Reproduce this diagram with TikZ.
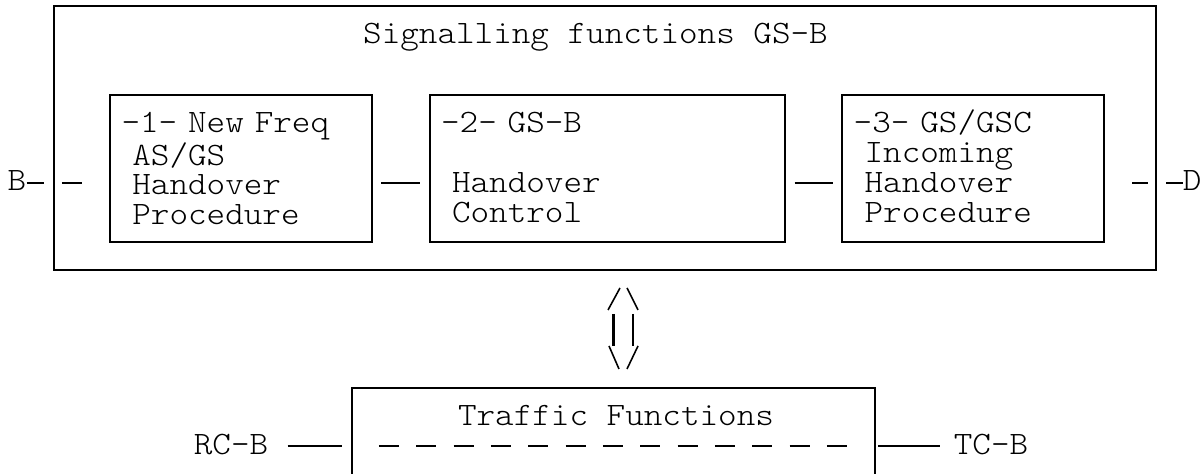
\documentclass[tikz,border=0pt]{standalone}
\usepackage{fontspec}
\setmonofont{Latin Modern Mono Light}[FakeStretch=1.083]
\usetikzlibrary{positioning}

\tikzset{
  fnbox/.style={draw, line width=1.2pt, minimum height=2.94cm, inner xsep=0.23cm,
    inner ysep=0pt, align=left, text height=0.4cm, text depth=1.82cm},
  link/.style={line width=1.3pt},
  lbl/.style={inner sep=0pt},
}

\begin{document}
\begin{tikzpicture}[font=\ttfamily\fontsize{18.6pt}{16.9pt}\selectfont]
\clip (0,0) rectangle (24.06,9.48);

% Outer box for the signalling functions
\node[draw, line width=1.2pt, minimum width=22.04cm, minimum height=5.28cm] (sig) at (12.10,6.72) {};
\node[lbl, anchor=base] (sigtitle) at ([xshift=-0.19cm,yshift=-0.78cm]sig.north) {Signalling functions GS-B};

% The three procedure boxes
\node[fnbox, text width=4.78cm] (newfreq) at (4.82,6.11) {-1- New Freq\\~AS/GS\\~Handover\\~Procedure};
\node[fnbox, text width=6.64cm, right=1.11cm of newfreq] (hoctrl) {-2- GS-B\\\mbox{}\\~Handover\\~Control};
\node[fnbox, text width=4.78cm, right=1.11cm of hoctrl] (incoming) {-3- GS/GSC\\~Incoming\\~Handover\\~Procedure};

% End labels B and D
\coordinate (lvl) at (0,5.82);
\node[lbl, anchor=base east] (bl) at (0.53,5.66) {B};
\node[lbl, anchor=base west] (dl) at (23.65,5.66) {D};

% Horizontal links along the signalling chain
\draw[link, shorten >=0.18cm] (bl.east |- lvl) -- (sig.west |- lvl);
\draw[link, shorten <=0.18cm, shorten >=0.54cm] (sig.west |- lvl) -- (newfreq.west |- lvl);
\draw[link, shorten <=0.16cm, shorten >=0.18cm] (newfreq.east |- lvl) -- (hoctrl.west |- lvl);
\draw[link, shorten <=0.18cm, shorten >=0.16cm] (hoctrl.east |- lvl) -- (incoming.west |- lvl);
\draw[link, shorten <=0.54cm, shorten >=0.18cm] (incoming.east |- lvl) -- (sig.east |- lvl);
\draw[link, shorten <=0.18cm] (sig.east |- lvl) -- (dl.west |- lvl);

% Double arrow between the two blocks
\coordinate (arr) at (12.46,2.91);
\begin{scope}[shift={(arr)}]
\draw[line width=0.9pt] (-0.30,0.37) -- (-0.06,0.81) (0.08,0.81) -- (0.30,0.37);
\draw[line width=1.4pt] (-0.19,0.29) -- (-0.19,-0.35) (0.20,0.29) -- (0.20,-0.35);
\draw[line width=0.9pt] (-0.28,-0.35) -- (-0.08,-0.81) (0.08,-0.81) -- (0.30,-0.35);
\end{scope}

% Traffic functions box (runs off the bottom)
\node[draw, line width=1.2pt, minimum width=10.46cm, minimum height=2.72cm] (traffic) at (12.27,0.36) {};
\node[lbl, anchor=base] (traftitle) at ([xshift=0.05cm,yshift=-0.78cm]traffic.north) {Traffic Functions};
\coordinate (tlvl) at (0,0.56);
\draw[link, dash pattern=on 0.4cm off 0.3467cm, shorten <=0.56cm, shorten >=0.54cm] (traffic.west |- tlvl) -- (traffic.east |- tlvl);

% RC-B and TC-B
\node[lbl, anchor=base west] (rc) at (3.87,0.38) {RC-B};
\node[lbl, anchor=base west] (tc) at (19.07,0.38) {TC-B};
\draw[link, shorten <=0.38cm, shorten >=0.18cm] (rc.east |- tlvl) -- (traffic.west |- tlvl);
\draw[link, shorten <=0.04cm, shorten >=0.27cm] (traffic.east |- tlvl) -- (tc.west |- tlvl);

\end{tikzpicture}
\end{document}
